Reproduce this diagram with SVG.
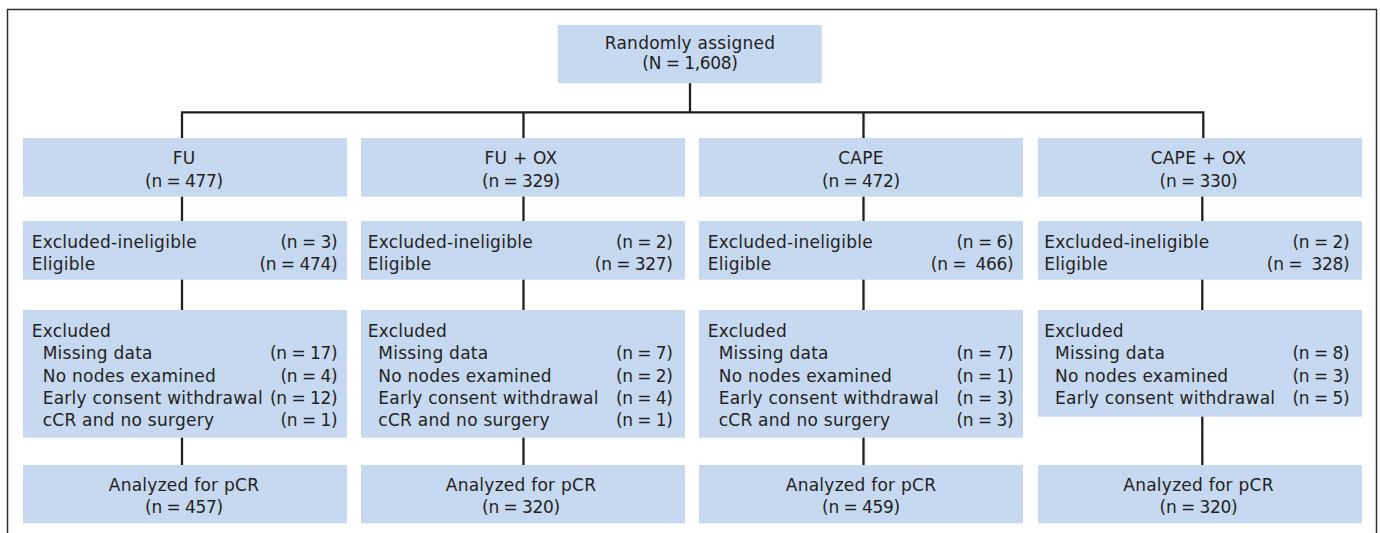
<svg xmlns="http://www.w3.org/2000/svg" width="1380" height="533" viewBox="0 0 1380 533">
<style>
.box{fill:#c6d9f0}
text{font-family:"DejaVu Sans","Liberation Sans",sans-serif;font-size:17px;letter-spacing:0.25px;fill:#231f20}
.n{letter-spacing:-0.3px;word-spacing:-0.5px}
.c{text-anchor:middle}
.r{text-anchor:end}
.ln{stroke:#231f20;stroke-width:2.3;fill:none}
</style>
<rect x="7.5" y="9.5" width="1369" height="540" fill="#fff" stroke="#2e2e2e" stroke-width="1.5"/>
<g id="connectors">
<path class="ln" d="M690 83V112.3M182 139V112.3H1203.3V139M523.5 112.3V139M863.5 112.3V139"/>
<path class="ln" d="M182 196V222M182 279V311M182 437V466"/>
<path class="ln" d="M523.5 196V222M523.5 279V311M523.5 437V466"/>
<path class="ln" d="M863.5 196V222M863.5 279V311M863.5 437V466"/>
<path class="ln" d="M1202.3 196V222M1202.3 279V311M1202.3 416V466"/>
</g>
<g id="top">
<rect class="box" x="557.7" y="25" width="264" height="58.3"/>
<text class="c" x="690" y="49.3">Randomly assigned</text>
<text class="c n" x="690" y="69">(N = 1,608)</text>
</g>
<g id="fu">
<rect class="box" x="23" y="138" width="324" height="58.7"/>
<text class="c" x="184" y="164">FU</text>
<text class="c n" x="184" y="186.5">(n = 477)</text>
</g>
<g id="fuox">
<rect class="box" x="361" y="138" width="324" height="58.7"/>
<text class="c" x="521" y="164">FU + OX</text>
<text class="c n" x="521" y="186.5">(n = 329)</text>
</g>
<g id="cape">
<rect class="box" x="699" y="138" width="324" height="58.7"/>
<text class="c" x="861" y="164">CAPE</text>
<text class="c n" x="861" y="186.5">(n = 472)</text>
</g>
<g id="capeox">
<rect class="box" x="1038" y="138" width="324" height="58.7"/>
<text class="c" x="1198.5" y="164">CAPE + OX</text>
<text class="c n" x="1198.5" y="186.5">(n = 330)</text>
</g>
<g id="fu-elig">
<rect class="box" x="23" y="221" width="324" height="58.7"/>
<text x="31.7" y="247.5">Excluded-ineligible</text>
<text class="r n" x="337.3" y="247.5">(n = 3)</text>
<text x="31.7" y="270">Eligible</text>
<text class="r n" x="337.3" y="270">(n = 474)</text>
</g>
<g id="fuox-elig">
<rect class="box" x="361" y="221" width="324" height="58.7"/>
<text x="367.7" y="247.5">Excluded-ineligible</text>
<text class="r n" x="672.7" y="247.5">(n = 2)</text>
<text x="367.7" y="270">Eligible</text>
<text class="r n" x="672.7" y="270">(n = 327)</text>
</g>
<g id="cape-elig">
<rect class="box" x="699" y="221" width="324" height="58.7"/>
<text x="707.7" y="247.5">Excluded-ineligible</text>
<text class="r n" x="1013.3" y="247.5">(n = 6)</text>
<text x="707.7" y="270">Eligible</text>
<text class="r n" x="1013.3" y="270" xml:space="preserve">(n =  466)</text>
</g>
<g id="capeox-elig">
<rect class="box" x="1038" y="221" width="324" height="58.7"/>
<text x="1044.3" y="247.5">Excluded-ineligible</text>
<text class="r n" x="1349.3" y="247.5">(n = 2)</text>
<text x="1044.3" y="270">Eligible</text>
<text class="r n" x="1349.3" y="270" xml:space="preserve">(n =  328)</text>
</g>
<g id="fu-excl">
<rect class="box" x="23" y="310" width="324" height="127.7"/>
<text x="31.7" y="336.7">Excluded</text>
<text x="42.7" y="359">Missing data</text>
<text class="r n" x="337.3" y="359">(n = 17)</text>
<text x="42.7" y="381.5">No nodes examined</text>
<text class="r n" x="337.3" y="381.5">(n = 4)</text>
<text x="42.7" y="404">Early consent withdrawal</text>
<text class="r n" x="337.3" y="404">(n = 12)</text>
<text x="42.7" y="425.7">cCR and no surgery</text>
<text class="r n" x="337.3" y="425.7">(n = 1)</text>
</g>
<g id="fuox-excl">
<rect class="box" x="361" y="310" width="324" height="127.7"/>
<text x="367.7" y="336.7">Excluded</text>
<text x="378.3" y="359">Missing data</text>
<text class="r n" x="672.7" y="359">(n = 7)</text>
<text x="378.3" y="381.5">No nodes examined</text>
<text class="r n" x="672.7" y="381.5">(n = 2)</text>
<text x="378.3" y="404">Early consent withdrawal</text>
<text class="r n" x="672.7" y="404">(n = 4)</text>
<text x="378.3" y="425.7">cCR and no surgery</text>
<text class="r n" x="672.7" y="425.7">(n = 1)</text>
</g>
<g id="cape-excl">
<rect class="box" x="699" y="310" width="324" height="127.7"/>
<text x="707.7" y="336.7">Excluded</text>
<text x="718.7" y="359">Missing data</text>
<text class="r n" x="1013.3" y="359">(n = 7)</text>
<text x="718.7" y="381.5">No nodes examined</text>
<text class="r n" x="1013.3" y="381.5">(n = 1)</text>
<text x="718.7" y="404">Early consent withdrawal</text>
<text class="r n" x="1013.3" y="404">(n = 3)</text>
<text x="718.7" y="425.7">cCR and no surgery</text>
<text class="r n" x="1013.3" y="425.7">(n = 3)</text>
</g>
<g id="capeox-excl">
<rect class="box" x="1038" y="310" width="324" height="106.7"/>
<text x="1044.3" y="336.7">Excluded</text>
<text x="1055" y="359">Missing data</text>
<text class="r n" x="1349.3" y="359">(n = 8)</text>
<text x="1055" y="381.5">No nodes examined</text>
<text class="r n" x="1349.3" y="381.5">(n = 3)</text>
<text x="1055" y="404">Early consent withdrawal</text>
<text class="r n" x="1349.3" y="404">(n = 5)</text>
</g>
<g id="fu-pcr">
<rect class="box" x="23" y="465" width="324" height="58.3"/>
<text class="c" x="184" y="491">Analyzed for pCR</text>
<text class="c n" x="184" y="512.5">(n = 457)</text>
</g>
<g id="fuox-pcr">
<rect class="box" x="361" y="465" width="324" height="58.3"/>
<text class="c" x="521" y="491">Analyzed for pCR</text>
<text class="c n" x="521" y="512.5">(n = 320)</text>
</g>
<g id="cape-pcr">
<rect class="box" x="699" y="465" width="324" height="58.3"/>
<text class="c" x="861" y="491">Analyzed for pCR</text>
<text class="c n" x="861" y="512.5">(n = 459)</text>
</g>
<g id="capeox-pcr">
<rect class="box" x="1038" y="465" width="324" height="58.3"/>
<text class="c" x="1198.5" y="491">Analyzed for pCR</text>
<text class="c n" x="1198.5" y="512.5">(n = 320)</text>
</g>
</svg>
